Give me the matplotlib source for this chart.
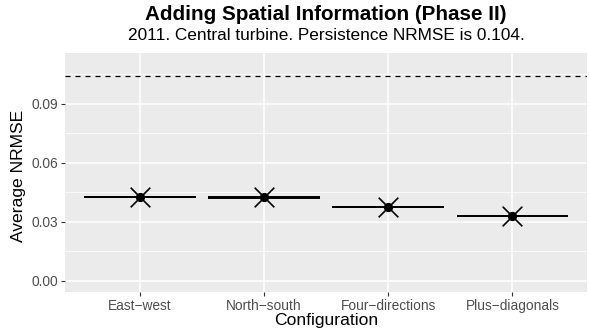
import numpy as np
import matplotlib
matplotlib.use('Agg')
import matplotlib.pyplot as plt
from matplotlib.ticker import MultipleLocator

plt.rcParams['font.family'] = ['Liberation Sans', 'DejaVu Sans']

# data
configs = ['East\u2212west', 'North\u2212south', 'Four\u2212directions', 'Plus\u2212diagonals']
avg_nrmse = [0.0424, 0.0424, 0.0375, 0.0331]
# horizontal segments (two per configuration, they overlap except North-south)
seg_a = [0.0424, 0.0421, 0.0375, 0.0331]
seg_b = [0.0424, 0.0425, 0.0375, 0.0331]
persistence = 0.104
yticks = [0.00, 0.03, 0.06, 0.09]

fig = plt.figure(figsize=(5.89, 3.33), dpi=100)
ax = fig.add_axes([65 / 589, 1 - 291.7 / 333, (587 - 65) / 589, (291.7 - 53) / 333])

ax.set_facecolor('#EBEBEB')
for s in ax.spines.values():
    s.set_visible(False)

x = np.arange(1, len(configs) + 1)

ax.set_xlim(0.4, 4.6)
ax.set_ylim(-0.0056, 0.1158)
ax.set_xticks(x)
ax.set_xticklabels(configs)
ax.set_yticks(yticks)
ax.set_yticklabels(['%.2f' % v for v in yticks])
ax.yaxis.set_minor_locator(MultipleLocator(0.015))

ax.grid(which='major', color='white', linewidth=1.1, zorder=0)
ax.grid(which='minor', axis='y', color='white', linewidth=0.55, zorder=0)
ax.set_axisbelow(True)

ax.tick_params(axis='both', which='major', length=3, width=0.8, color='#333333',
               labelsize=9.9, labelcolor='#4D4D4D', pad=2)
ax.tick_params(axis='both', which='minor', length=0)

ax.axhline(persistence, color='black', linestyle=(0, (4, 4)), linewidth=0.9, zorder=3)

ax.hlines(seg_a, x - 0.45, x + 0.45, color='black', linewidth=1.4, zorder=3)
ax.hlines(seg_b, x - 0.45, x + 0.45, color='black', linewidth=1.4, zorder=3)
ax.scatter(x, avg_nrmse, marker='x', s=200, color='black', linewidths=1.2, zorder=4)
ax.scatter(x, avg_nrmse, marker='o', s=32, color='black', zorder=5)

fig.text(326 / 589, 1 - 325.5 / 333, 'Configuration', ha='center', va='baseline', fontsize=12.6)
fig.text(19 / 589, 1 - 176 / 333, 'Average NRMSE', ha='center', va='center',
         rotation=90, fontsize=12.6)

fig.text(326 / 589, 1 - 20 / 333, 'Adding Spatial Information (Phase II)',
         ha='center', va='baseline', fontsize=14.9, fontweight='bold')
fig.text(326 / 589, 1 - 39.5 / 333, '2011. Central turbine. Persistence NRMSE is 0.104.',
         ha='center', va='baseline', fontsize=12.4)

fig.savefig('out.png', dpi=100)
